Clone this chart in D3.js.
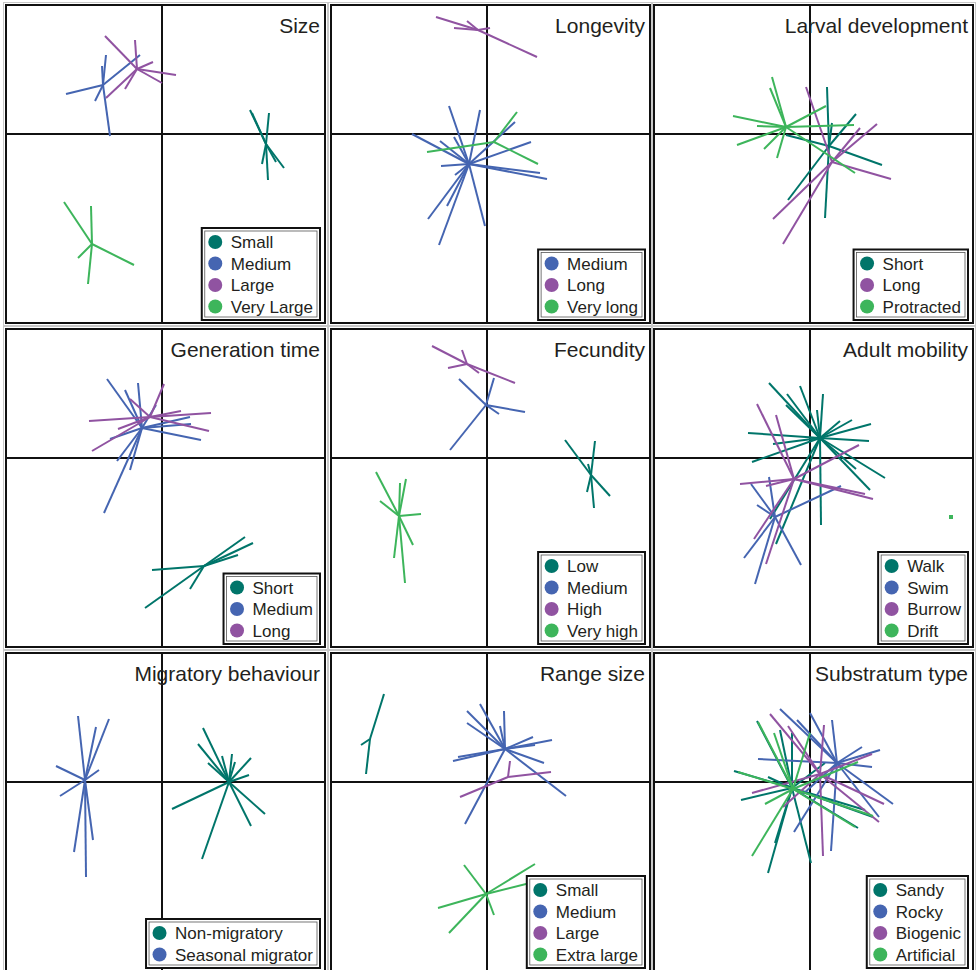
<!DOCTYPE html>
<html>
<head>
<meta charset="utf-8">
<script src="https://cdn.jsdelivr.net/npm/d3@7"></script>
<style>
  body { margin: 0; background: #fff; }
  svg { display: block; }
  text { font-family: "Liberation Sans", Arial, sans-serif; fill: #231f20; }
</style>
</head>
<body>
<div id="canvas"></div>
<script>
// ordination scores (axis units), first point = group centroid
var titles = ['Size', 'Longevity', 'Larval development', 'Generation time', 'Fecundity',
              'Adult mobility', 'Migratory behaviour', 'Range size', 'Substratum type'];

var sizeLabels = ['Small', 'Medium', 'Large', 'Very Large'];
var sizeCentroids = [[1.04, -0.10], [-0.59, 0.49], [-0.25, 0.65], [-0.70, -1.10]];
var sizePoints = [
  [[0.88, 0.24], [1.07, 0.21], [1.22, -0.34], [1.06, -0.46], [1.00, -0.30], [1.14, -0.28], [0.90, 0.21]],
  [[-0.96, 0.40], [-0.22, 0.79], [-0.56, 0.79], [-0.60, 0.68], [-0.67, 0.33], [-0.52, -0.02]],
  [[-0.57, 0.98], [-0.27, 0.94], [-0.09, 0.72], [0.14, 0.59], [0.00, 0.51], [-0.37, 0.45], [-0.56, 0.36]],
  [[-0.98, -0.68], [-0.71, -0.72], [-0.28, -1.31], [-0.74, -1.50], [-0.84, -1.24]]
];

var longLabels = ['Medium', 'Long', 'Very long'];
var longCentroids = [[-0.18, -0.30], [-0.09, 1.04], [0.07, -0.08]];
var longPoints = [
  [[-0.38, 0.28], [-0.07, 0.24], [-0.75, 0.00], [-0.47, -0.07], [-0.33, -0.03], [-0.46, -0.32], [-0.32, -0.41],
   [0.28, 0.12], [0.44, -0.08], [0.53, -0.39], [0.60, -0.45], [-0.02, -0.92], [-0.48, -1.11], [-0.59, -0.85], [-0.40, -0.72]],
  [[-0.51, 1.17], [0.50, 0.77], [0.03, 1.06], [-0.33, 1.06], [-0.20, 1.13]],
  [[0.30, 0.22], [-0.60, -0.18], [0.51, -0.30]]
];

var larvalLabels = ['Short', 'Long', 'Protracted'];
var larvalCentroids = [[0.19, -0.12], [0.22, -0.28], [-0.24, 0.07]];
var larvalPoints = [
  [[0.17, 0.47], [0.22, 0.11], [0.46, 0.20], [0.72, -0.31], [-0.22, -0.66], [0.15, -0.84], [-0.24, -0.01]],
  [[-0.04, 0.47], [0.50, 0.06], [0.67, 0.10], [0.81, -0.45], [-0.37, -0.85], [-0.27, -1.10]],
  [[-0.38, 0.57], [-0.40, 0.46], [-0.77, 0.18], [-0.53, 0.08], [-0.73, -0.11], [-0.46, -0.15], [-0.33, -0.24],
   [0.16, 0.28], [0.44, 0.09], [0.45, -0.39]]
];

var genLabels = ['Short', 'Medium', 'Long'];
var genCentroids = [[0.42, -1.08], [-0.20, 0.30], [-0.12, 0.41]];
var genPoints = [
  [[0.83, -0.79], [0.91, -0.85], [0.76, -0.97], [-0.10, -1.12], [0.28, -1.31], [-0.17, -1.50]],
  [[-0.55, 0.79], [-0.37, 0.68], [-0.24, 0.75], [-0.06, 0.53], [0.28, 0.41], [0.29, 0.34], [0.39, 0.18],
   [-0.52, 0.19], [-0.45, -0.03], [-0.32, -0.12], [-0.58, -0.55]],
  [[-0.73, 0.37], [0.02, 0.74], [0.19, 0.47], [0.49, 0.45], [0.47, 0.27], [-0.44, 0.29], [-0.70, 0.07], [-0.32, 0.59]]
];

var fecLabels = ['Low', 'Medium', 'High', 'Very high'];
var fecCentroids = [[1.04, -0.17], [-0.01, 0.53], [-0.20, 0.94], [-0.88, -0.58]];
var fecPoints = [
  [[0.78, 0.18], [1.08, 0.17], [1.23, -0.38], [1.07, -0.50], [1.00, -0.34], [1.01, -0.06]],
  [[-0.28, 0.79], [0.07, 0.80], [0.38, 0.46], [0.12, 0.44], [-0.37, 0.08]],
  [[-0.55, 1.12], [-0.25, 1.08], [0.28, 0.75], [-0.39, 0.90], [-0.08, 0.85]],
  [[-1.11, -0.14], [-0.87, -0.25], [-0.81, -0.21], [-1.07, -0.43], [-0.66, -0.56], [-0.74, -0.87], [-0.93, -1.00], [-0.82, -1.25]]
];

var mobLabels = ['Walk', 'Swim', 'Burrow', 'Drift'];
var mobCentroids = [[0.10, 0.20], [-0.35, -0.59], [-0.16, -0.21], [1.41, -0.59]];
var mobPoints = [
  [[-0.41, 0.75], [-0.10, 0.72], [-0.23, 0.64], [-0.24, 0.53], [0.13, 0.64], [0.07, 0.48], [0.30, 0.37], [0.42, 0.38],
   [0.61, 0.34], [0.59, 0.17], [0.75, -0.20], [0.60, -0.32], [0.11, -0.67], [-0.34, -0.86], [-0.40, -0.61],
   [-0.58, -0.04], [-0.62, 0.25], [-0.37, 0.14], [0.46, -0.11]],
  [[-0.59, -0.26], [-0.41, -0.19], [-0.53, -0.47], [0.31, -0.28], [-0.09, -1.07], [-0.66, -1.00], [-0.55, -1.26]],
  [[-0.53, 0.54], [-0.34, 0.43], [-0.70, -0.26], [-0.44, -0.28], [0.49, 0.13], [0.55, -0.36], [0.63, -0.41],
   [-0.56, -0.81], [-0.44, -1.06]],
  []
];

var migLabels = ['Non-migratory', 'Seasonal migrator'];
var migCentroids = [[0.67, 0.00], [-0.77, 0.02]];
var migPoints = [
  [[0.41, 0.54], [0.36, 0.38], [0.46, 0.19], [0.60, 0.26], [0.70, 0.28], [0.73, 0.20], [0.89, 0.24], [0.87, 0.07],
   [1.03, -0.32], [0.89, -0.44], [0.40, -0.77], [0.10, -0.27]],
  [[-0.84, 0.66], [-0.66, 0.55], [-0.53, 0.63], [-1.06, 0.16], [-0.63, 0.12], [-1.02, -0.14], [-0.88, -0.70],
   [-0.76, -0.95], [-0.69, -0.58]]
];

var rangeLabels = ['Small', 'Medium', 'Large', 'Extra large'];
var rangeCentroids = [[-1.17, 0.43], [0.18, 0.33], [0.21, 0.05], [-0.01, -1.12]];
var rangePoints = [
  [[-1.03, 0.88], [-1.26, 0.37], [-1.21, 0.08]],
  [[-0.07, 0.78], [-0.20, 0.71], [-0.20, 0.59], [0.17, 0.71], [0.13, 0.56], [0.46, 0.45], [0.48, 0.37], [0.65, 0.42],
   [0.57, 0.19], [0.79, -0.14], [-0.22, -0.42], [-0.34, 0.21], [-0.29, 0.25]],
  [[0.23, 0.21], [0.64, 0.10], [-0.27, -0.15]],
  [[-0.23, -0.83], [0.48, -0.82], [0.55, -0.98], [-0.49, -1.26], [-0.38, -1.51], [0.07, -1.33]]
];

var subLabels = ['Sandy', 'Rocky', 'Biogenic', 'Artificial'];
var subCentroids = [[-0.18, -0.06], [0.27, 0.19], [0.10, 0.08], [-0.17, -0.07]];
var subPoints = [
  [[-0.53, 0.61], [-0.76, 0.11], [-0.69, -0.18], [-0.42, 0.05], [-0.18, 0.49], [0.55, -0.28], [0.63, -0.35],
   [0.48, -0.46], [-0.42, -0.91], [-0.35, -0.61], [0.01, -0.81], [0.15, 0.19], [-0.30, 0.52]],
  [[-0.30, 0.73], [-0.13, 0.62], [0.00, 0.69], [0.22, 0.62], [0.52, 0.35], [0.70, 0.32], [-0.52, 0.23], [0.62, 0.15],
   [0.83, -0.22], [0.69, -0.35], [0.21, -0.69], [-0.16, -0.50], [-0.08, -0.13]],
  [[-0.40, 0.68], [-0.22, 0.56], [0.14, 0.57], [0.62, 0.28], [-0.58, -0.11], [0.74, -0.22], [0.69, -0.40],
   [0.13, -0.74], [-0.27, -0.25]],
  [[-0.52, 0.60], [-0.36, 0.49], [0.00, 0.49], [-0.72, 0.10], [-0.45, -0.22], [-0.58, -0.74], [0.45, -0.45],
   [0.63, -0.34], [0.48, 0.20]]
];

var allLabels = [sizeLabels, longLabels, larvalLabels, genLabels, fecLabels, mobLabels, migLabels, rangeLabels, subLabels];
var allCentroids = [sizeCentroids, longCentroids, larvalCentroids, genCentroids, fecCentroids, mobCentroids, migCentroids, rangeCentroids, subCentroids];
var allPoints = [sizePoints, longPoints, larvalPoints, genPoints, fecPoints, mobPoints, migPoints, rangePoints, subPoints];

var W = 976, H = 970;
var pw = 319, ph = 318;
var colX = [6, 331, 654], rowY = [5, 329, 653];

// colour by category name
var colour = d3.scaleOrdinal()
  .domain(['Small', 'Short', 'Low', 'Walk', 'Non-migratory', 'Sandy',
           'Medium', 'Swim', 'Seasonal migrator', 'Rocky',
           'Large', 'Long', 'High', 'Burrow', 'Biogenic',
           'Very Large', 'Very long', 'Protracted', 'Very high', 'Drift', 'Extra large', 'Artificial'])
  .range(['#00756a', '#00756a', '#00756a', '#00756a', '#00756a', '#00756a',
          '#4565b1', '#4565b1', '#4565b1', '#4565b1',
          '#9053a1', '#9053a1', '#9053a1', '#9053a1', '#9053a1',
          '#3db55b', '#3db55b', '#3db55b', '#3db55b', '#3db55b', '#3db55b', '#3db55b']);

var scaleX = d3.scaleLinear().domain([-1.56, 1.63]).range([0, pw]);
var scaleY = d3.scaleLinear().domain([1.29, -1.89]).range([0, ph]);

var svg = d3.select('#canvas').append('svg')
  .attr('width', W).attr('height', H);

svg.append('defs').append('clipPath').attr('id', 'clip')
  .append('rect').attr('width', pw).attr('height', ph);

titles.forEach(function(title, i) {
  var g = svg.append('g')
    .attr('transform', 'translate(' + colX[i % 3] + ',' + rowY[Math.floor(i / 3)] + ')');

  // outer faint line of the double frame
  g.append('rect')
    .attr('x', -2.5).attr('y', -2.5)
    .attr('width', pw + 5).attr('height', ph + 5)
    .attr('fill', 'none').attr('stroke', '#c8c8c8').attr('stroke-width', 1);

  var plot = g.append('g').attr('clip-path', 'url(#clip)');

  // zero lines
  plot.append('line')
    .attr('x1', scaleX(0)).attr('x2', scaleX(0))
    .attr('y1', 0).attr('y2', ph)
    .attr('stroke', '#111').attr('stroke-width', 2);
  plot.append('line')
    .attr('x1', 0).attr('x2', pw)
    .attr('y1', scaleY(0)).attr('y2', scaleY(0))
    .attr('stroke', '#111').attr('stroke-width', 2);

  var labels = allLabels[i], cents = allCentroids[i], pts = allPoints[i];

  labels.forEach(function(lab, k) {
    var c = cents[k];
    var grp = plot.append('g').attr('class', 'star');
    if (pts[k].length === 0) {
      grp.append('rect')
        .attr('x', scaleX(c[0]) - 2).attr('y', scaleY(c[1]) - 2)
        .attr('width', 4).attr('height', 4)
        .attr('fill', colour(lab));
      return;
    }
    grp.selectAll('line').data(pts[k]).enter()
      .append('line')
      .attr('x1', scaleX(c[0])).attr('y1', scaleY(c[1]))
      .attr('x2', function(d) { return scaleX(d[0]); })
      .attr('y2', function(d) { return scaleY(d[1]); })
      .attr('stroke', colour(lab))
      .attr('stroke-width', 2);
  });

  // frame
  g.append('rect')
    .attr('width', pw).attr('height', ph)
    .attr('fill', 'none').attr('stroke', '#111').attr('stroke-width', 2);

  g.append('text')
    .attr('x', pw - 5).attr('y', 28)
    .attr('text-anchor', 'end')
    .style('font-size', '21px')
    .text(title);

  // legend
  var itemH = 21.5;
  var leg = g.append('g');
  var texts = leg.selectAll('text').data(labels).enter()
    .append('text')
    .style('font-size', '17px')
    .attr('dy', '0.36em')
    .text(function(d) { return d; });
  var maxW = 0;
  texts.each(function() { maxW = Math.max(maxW, this.getComputedTextLength()); });
  var bw = maxW + 36, bh = labels.length * itemH + 6;
  var bx = pw - 5 - bw, by = ph - 3 - bh;
  leg.insert('rect', 'text')
    .attr('x', bx).attr('y', by).attr('width', bw).attr('height', bh)
    .attr('fill', '#fff').attr('stroke', '#111').attr('stroke-width', 2);
  leg.insert('rect', 'text')
    .attr('x', bx + 3).attr('y', by + 3).attr('width', bw - 6).attr('height', bh - 6)
    .attr('fill', 'none').attr('stroke', '#555').attr('stroke-width', 0.8);
  texts
    .attr('x', bx + 29)
    .attr('y', function(d, k) { return by + 14 + k * itemH; });
  leg.selectAll('circle').data(labels).enter()
    .append('circle')
    .attr('cx', bx + 13.5)
    .attr('cy', function(d, k) { return by + 14 + k * itemH; })
    .attr('r', 7)
    .attr('fill', function(d) { return colour(d); });
});
</script>
</body>
</html>
